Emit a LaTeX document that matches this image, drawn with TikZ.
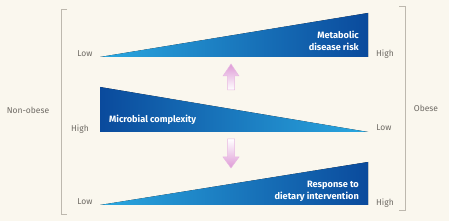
\documentclass[tikz,border=0pt]{standalone}
\usepackage{fontspec}
\setmainfont{Fira Sans}
\usepackage{xcolor}
\usepackage{tikz}
\usetikzlibrary{positioning}
\definecolor{bgcream}{HTML}{FAF7EE}
\definecolor{wedgelight}{HTML}{2AA8E0}
\definecolor{wedgedark}{HTML}{0A4A9C}
\definecolor{scalegray}{HTML}{6E6A64}
\definecolor{bracketgray}{HTML}{BDB8AE}
\definecolor{arrowpink}{HTML}{DE9AD6}

\begin{document}
\begin{tikzpicture}[
    x=1pt, y=-1pt,
    endlabel/.style={font=\fontsize{8.5}{10}\selectfont, text=scalegray, inner sep=0pt},
    sidelabel/.style={font=\fontsize{8.5}{10}\selectfont, text=scalegray, inner sep=0pt},
    wedgelabel/.style={font=\bfseries\fontsize{9.2}{12}\selectfont, text=white, inner sep=0pt, align=right},
    bracket/.style={draw=bracketgray, line width=0.7pt},
    uparrow/.style={draw=arrowpink!70, line width=0.5pt, top color=arrowpink, bottom color=white},
    downarrow/.style={draw=arrowpink!70, line width=0.5pt, top color=white, bottom color=arrowpink}
]
\fill[bgcream] (0,0) rectangle (449,221);
\useasboundingbox (0,0) rectangle (449,221);

% brackets
\draw[bracket] (67,9) -- (61,9) -- (61,214) -- (67,214);
\draw[bracket] (399,6) -- (405,6) -- (405,210) -- (399,210);
\node[sidelabel] (nonobese) at (28,110) {Non-obese};
\node[sidelabel] (obese) at (426,108) {Obese};

% wedges
\fill[left color=wedgelight, right color=wedgedark] (100,57) -- (368,13) -- (368,57) -- cycle;
\fill[left color=wedgedark, right color=wedgelight] (100,87) -- (368,132) -- (100,132) -- cycle;
\fill[left color=wedgelight, right color=wedgedark] (100,205) -- (368,162) -- (368,205) -- cycle;

\node[wedgelabel, anchor=east] (risk) at (359,41) {Metabolic\\disease risk};
\node[wedgelabel, anchor=west] (complexity) at (109,120) {Microbial complexity};
\node[wedgelabel, anchor=east] (response) at (359,191) {Response to\\dietary intervention};

\node[endlabel] (riskLow) at (85,54) {Low};
\node[endlabel] (riskHigh) at (385,54) {High};
\node[endlabel] (complexityHigh) at (80,129) {High};
\node[endlabel] (complexityLow) at (384,128) {Low};
\node[endlabel] (responseLow) at (85,202) {Low};
\node[endlabel] (responseHigh) at (385,203) {High};

% arrows
\draw[uparrow] (231,64) -- (239,76) -- (234.5,76) -- (234.5,90) -- (227.5,90) -- (227.5,76) -- (223,76) -- cycle;
\draw[downarrow] (227.5,139) -- (234.5,139) -- (234.5,157) -- (239,157) -- (231,168) -- (223,157) -- (227.5,157) -- cycle;
\end{tikzpicture}
\end{document}
